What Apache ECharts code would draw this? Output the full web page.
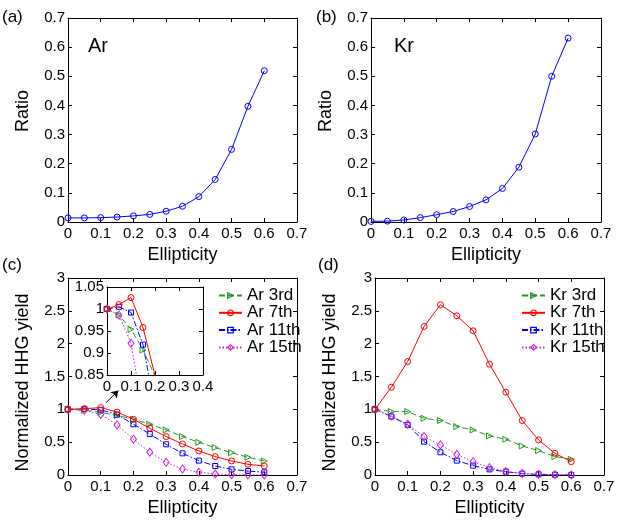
<!DOCTYPE html>
<html>
<head>
<meta charset="utf-8">
<title>HHG ellipticity</title>
<script src="https://cdn.jsdelivr.net/npm/echarts@6/dist/echarts.min.js"></script>
<style>
  html, body { margin: 0; padding: 0; background: #fff; }
  #chart { width: 628px; height: 523px; }
</style>
</head>
<body>
<div id="chart"></div>
<script>
// ellipticity values shared by every curve
const ellipticity = [0, 0.05, 0.1, 0.15, 0.2, 0.25, 0.3, 0.35, 0.4, 0.45, 0.5, 0.55, 0.6];

// (a), (b) ratio
const ratioAr = [0.014, 0.014, 0.015, 0.017, 0.021, 0.026, 0.037, 0.054, 0.087, 0.146, 0.249, 0.397, 0.519];
const ratioKr = [0.002, 0.003, 0.007, 0.015, 0.025, 0.036, 0.053, 0.076, 0.115, 0.188, 0.302, 0.5, 0.631];

// (c) Ar harmonics, normalized yield
const ar3 = [1, 0.986, 0.954, 0.907, 0.848, 0.773, 0.686, 0.585, 0.498, 0.417, 0.34, 0.27, 0.214];
const ar7 = [1, 1.01, 1.026, 0.958, 0.849, 0.712, 0.585, 0.473, 0.366, 0.28, 0.214, 0.163, 0.137];
const ar11 = [1, 1.005, 0.992, 0.919, 0.773, 0.625, 0.468, 0.33, 0.219, 0.137, 0.086, 0.061, 0.041];
const ar15 = [1, 0.986, 0.922, 0.763, 0.544, 0.346, 0.193, 0.092, 0.041, 0.015, 0.005, 0.002, 0.001];

// (d) Kr harmonics, normalized yield
const kr3 = [1, 0.966, 0.966, 0.864, 0.829, 0.737, 0.686, 0.595, 0.544, 0.442, 0.371, 0.28, 0.239];
const kr7 = [1, 1.337, 1.729, 2.262, 2.593, 2.425, 2.196, 1.688, 1.261, 0.829, 0.534, 0.33, 0.203];
const kr11 = [1, 0.89, 0.763, 0.508, 0.346, 0.219, 0.142, 0.086, 0.05, 0.02, 0.01, 0.005, 0.001];
const kr15 = [1, 0.9, 0.773, 0.585, 0.458, 0.315, 0.203, 0.112, 0.056, 0.025, 0.01, 0.005, 0.001];

const arNames = ['Ar 3rd', 'Ar 7th', 'Ar 11th', 'Ar 15th'];
const krNames = ['Kr 3rd', 'Kr 7th', 'Kr 11th', 'Kr 15th'];

// arrow in panel (c), data coordinates
const arrowFrom = [0.116, 1.10];
const arrowTo = [0.154, 1.285];

const FONT = 'Liberation Sans, Arial, sans-serif';
const GREEN = '#22992a', RED = '#ff0000', BLUE = '#0000ff', MAGENTA = '#cc22cc';

const pts = ys => ellipticity.map((x, i) => [x, ys[i]]);

const styles = [
    { color: GREEN, type: [6, 3], symbol: 'triangle', size: 6, rotate: -90 },
    { color: RED, type: 'solid', symbol: 'circle', size: 6, rotate: 0 },
    { color: BLUE, type: [6, 2, 1.5, 2], symbol: 'rect', size: 5, rotate: 0 },
    { color: MAGENTA, type: [1.5, 2], symbol: 'diamond', size: [6, 8], rotate: 0 }
];

const xAxis = [];
const yAxis = [];

// bottom + top x axis, left + right y axis for one grid
function addAxes(gi, xr, yr, opts) {
    const tick = { inside: true, length: 4, lineStyle: { color: '#000' } };
    const line = { show: true, onZero: false, lineStyle: { color: '#000', width: 1 } };
    const lab = { color: '#000', fontSize: 15, fontFamily: FONT };
    xAxis.push({
        gridIndex: gi, type: 'value', position: 'bottom', min: xr[0], max: xr[1], interval: xr[2],
        axisLine: line, axisTick: tick, splitLine: { show: false },
        axisLabel: Object.assign({ margin: 4 }, lab),
        name: opts.xName || '', nameLocation: 'middle', nameGap: 24,
        nameTextStyle: { color: '#000', fontSize: 18, fontFamily: FONT }
    });
    xAxis.push({
        gridIndex: gi, type: 'value', position: 'top', min: xr[0], max: xr[1], interval: xr[2],
        axisLine: line, axisTick: tick, splitLine: { show: false }, axisLabel: { show: false }
    });
    yAxis.push({
        gridIndex: gi, type: 'value', position: 'left', min: yr[0], max: yr[1], interval: yr[2],
        axisLine: line, axisTick: tick, splitLine: { show: false },
        axisLabel: Object.assign({ margin: 3 }, lab),
        name: opts.yName || '', nameLocation: 'middle', nameGap: 36,
        nameTextStyle: { color: '#000', fontSize: 18, fontFamily: FONT, padding: opts.yPad || 0 }
    });
    yAxis.push({
        gridIndex: gi, type: 'value', position: 'right', min: yr[0], max: yr[1], interval: yr[2],
        axisLine: line, axisTick: tick, splitLine: { show: false }, axisLabel: { show: false }
    });
}

const grid = [
    { left: 68, top: 18, width: 229, height: 204 },
    { left: 371, top: 18, width: 230, height: 204 },
    { left: 68, top: 278, width: 229, height: 197 },
    { left: 375, top: 278, width: 229, height: 197 },
    { left: 107, top: 287, width: 96, height: 88, show: true, backgroundColor: '#fff', borderWidth: 0 }
];

addAxes(0, [0, 0.7, 0.1], [0, 0.7, 0.1], { xName: 'Ellipticity', yName: 'Ratio', yPad: [0, 0, 0, 18] });
addAxes(1, [0, 0.7, 0.1], [0, 0.7, 0.1], { xName: 'Ellipticity', yName: 'Ratio', yPad: [0, 0, 0, 18] });
addAxes(2, [0, 0.7, 0.1], [0, 3, 0.5], { xName: 'Ellipticity', yName: 'Normalized HHG yield', yPad: [0, 12, 0, 0] });
addAxes(3, [0, 0.7, 0.1], [0, 3, 0.5], { xName: 'Ellipticity', yName: 'Normalized HHG yield', yPad: [0, 12, 0, 0] });
addAxes(4, [0, 0.4, 0.1], [0.85, 1.05, 0.05], {});

const series = [];

function ratioSeries(gi, ys) {
    series.push({
        type: 'line', xAxisIndex: gi * 2, yAxisIndex: gi * 2, data: pts(ys),
        symbol: 'circle', symbolSize: 6,
        lineStyle: { color: BLUE, width: 1 },
        itemStyle: { color: 'none', borderColor: BLUE, borderWidth: 1 }
    });
}
ratioSeries(0, ratioAr);
ratioSeries(1, ratioKr);

function harmonicSeries(gi, names, sets) {
    sets.forEach((ys, k) => {
        const s = styles[k];
        series.push({
            name: names[k], type: 'line', xAxisIndex: gi * 2, yAxisIndex: gi * 2, data: pts(ys),
            symbol: s.symbol, symbolSize: s.size, symbolRotate: s.rotate, clip: true,
            lineStyle: { color: s.color, width: 1, type: s.type },
            itemStyle: { color: 'none', borderColor: s.color, borderWidth: 1 },
            z: 3 + (k === 1 ? 1 : 0)
        });
    });
}
harmonicSeries(2, arNames, [ar3, ar7, ar11, ar15]);
harmonicSeries(3, krNames, [kr3, kr7, kr11, kr15]);
harmonicSeries(4, arNames, [ar3, ar7, ar11, ar15]);

// arrow pointing at the inset
series[2].markLine = {
    silent: true, symbol: ['none', 'arrow'], symbolSize: 7,
    lineStyle: { color: '#000', width: 1, type: 'solid' }, label: { show: false },
    data: [[{ coord: arrowFrom }, { coord: arrowTo }]]
};

const legendCommon = {
    orient: 'vertical', itemWidth: 23, itemHeight: 7, itemGap: 0.3,
    itemStyle: { color: 'transparent', borderWidth: 1.2 },
    textStyle: { color: '#000', fontSize: 17, fontFamily: FONT, lineHeight: 15 },
    selectedMode: false
};

const label = (x, y, text, size) => ({
    type: 'text', left: x, top: y,
    style: { text: text, fill: '#000', fontSize: size, fontFamily: FONT }
});

const chart = echarts.init(document.getElementById('chart'), null, { renderer: 'canvas' });
chart.setOption({
    backgroundColor: '#fff',
    animation: false,
    grid: grid,
    xAxis: xAxis,
    yAxis: yAxis,
    legend: [
        Object.assign({ data: arNames, left: 213, top: 282 }, legendCommon),
        Object.assign({ data: krNames, left: 516, top: 282 }, legendCommon)
    ],
    graphic: [
        label(2, 9, '(a)', 17),
        label(316, 9, '(b)', 17),
        label(2, 257, '(c)', 17),
        label(318, 257, '(d)', 17),
        label(88, 36, 'Ar', 20),
        label(394, 36, 'Kr', 20)
    ],
    series: series
});
</script>
</body>
</html>
